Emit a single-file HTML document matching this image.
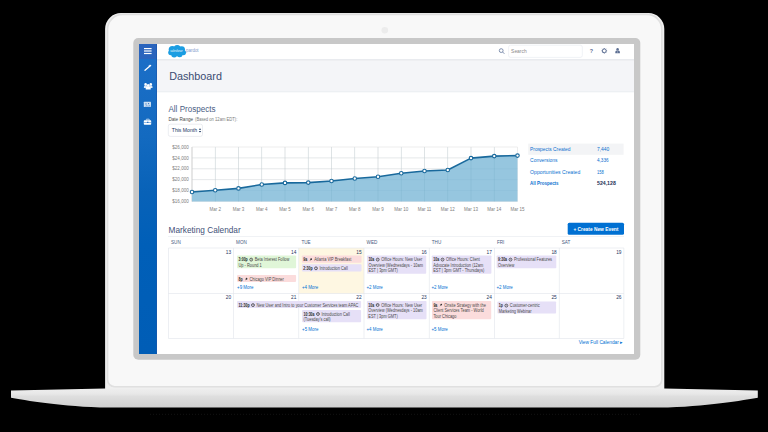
<!DOCTYPE html>
<html><head><meta charset="utf-8">
<style>
*{margin:0;padding:0}
html,body{width:768px;height:432px;background:#000;overflow:hidden}
svg{position:absolute;left:0;top:0;font-family:"Liberation Sans",sans-serif}
</style></head><body>
<svg width="768" height="432" viewBox="0 0 768 432">
<defs>
<linearGradient id="bg" x1="0" y1="0" x2="0" y2="1">
<stop offset="0" stop-color="#eeeeee"/>
<stop offset="0.28" stop-color="#e8e8e8"/>
<stop offset="0.42" stop-color="#dedede"/>
<stop offset="1" stop-color="#d0d0d0"/>
</linearGradient>
</defs>

<path d="M11 390.6 L105.1 388.4 L664.3 388.4 L757.8 390.6 L757.8 397.7 C 735 401.5, 700 407.6, 650 407.6 L 118 407.6 C 68 407.6, 33 401.5, 11 397.7 Z" fill="url(#bg)"/>
<line x1="150" y1="414.3" x2="640" y2="414.3" stroke="#1e1e1e" stroke-width="0.8" stroke-dasharray="0.8 2.2"/>
<filter id="bl" x="-5%" y="-5%" width="110%" height="110%"><feGaussianBlur stdDeviation="0.6"/></filter>
<path d="M105.1 389 V29 A16 16 0 0 1 121.1 13.1 H648.3 A16 16 0 0 1 664.3 29 V389 Z" fill="#efefef"/>
<path d="M107.6 379.7 V29.5 A15 15 0 0 1 122.6 14.4 H646.8 A15 15 0 0 1 661.8 29.5 V379.7 A7 7 0 0 1 654.8 386.7 H114.6 A7 7 0 0 1 107.6 379.7 Z" fill="#f8f8f8" stroke="#e0e0e0" stroke-width="1.6" filter="url(#bl)"/>
<circle cx="384.8" cy="30.3" r="3.3" fill="#ececec"/>
<rect x="133.3" y="38" width="507" height="321.8" rx="5" fill="#c8c8c8"/>
<rect x="139" y="44" width="495" height="310" fill="#ffffff"/>
<rect x="157" y="59.8" width="477" height="31.7" fill="#f4f5f8"/>
<rect x="157" y="59" width="477" height="1.6" fill="#e9ebef"/>
<rect x="157" y="91.5" width="477" height="0.7" fill="#e2e6ec"/>
<linearGradient id="sg" x1="0" y1="0" x2="0" y2="1" gradientUnits="objectBoundingBox"><stop offset="0" stop-color="#1d6fc8"/><stop offset="0.3" stop-color="#136ac0"/><stop offset="0.48" stop-color="#0862b8"/><stop offset="0.65" stop-color="#005fb8"/><stop offset="1" stop-color="#005db6"/></linearGradient>
<rect x="139" y="44" width="18" height="310" fill="url(#sg)"/>
<rect x="139" y="44" width="18" height="15" fill="#2a64bd"/>
<rect x="156" y="44" width="1" height="310" fill="#1a55a8" opacity="0.6"/>
<rect x="144" y="48.0" width="7.6" height="1.2" fill="#fff"/>
<rect x="144" y="50.4" width="7.6" height="1.2" fill="#fff"/>
<rect x="144" y="52.9" width="7.6" height="1.2" fill="#fff"/>
<line x1="145" y1="70.3" x2="150.6" y2="65.5" stroke="#fff" stroke-width="1.3" stroke-linecap="round"/>
<path d="M149.5 64.5 l0.4 0.8 l0.8 0.2 l-0.6 0.5 l0.1 0.8 l-0.7-0.4 l-0.7 0.4 l0.1-0.8 l-0.6-0.5 l0.8-0.2z" fill="#fff" opacity="0.7"/>
<circle cx="145.6" cy="84.4" r="1.3" fill="#fff"/><circle cx="150.8" cy="84.4" r="1.3" fill="#fff"/>
<path d="M143.9 88.0 v-1.3 q0-1.2 1.7-1.2 q1.7 0 1.7 1.2 v1.3z M149.1 88.0 v-1.3 q0-1.2 1.7-1.2 q1.7 0 1.7 1.2 v1.3z" fill="#fff" opacity="0.85"/>
<circle cx="148.2" cy="85.6" r="1.5" fill="#fff"/>
<path d="M145.7 89.4 v-1.3 q0-1.3 2.5-1.3 q2.5 0 2.5 1.3 v1.3z" fill="#fff"/>
<rect x="143.8" y="101.8" width="7.2" height="5.2" rx="0.5" fill="#fff" opacity="0.78"/>
<circle cx="146" cy="103.9" r="0.6" fill="#2a6cc0"/><circle cx="148.6" cy="103.6" r="0.6" fill="#2a6cc0"/>
<path d="M144.6 106.6 l2.2-1.6 l1.2 0.9 l1.5-1.2 l1.5 1.9z" fill="#4f8ad0" opacity="0.6"/>
<rect x="143.8" y="120.3" width="7.4" height="4.5" rx="0.7" fill="#fff"/>
<path d="M146.3 120.5 v-0.9 q0-0.4 0.4-0.4 h2.2 q0.4 0 0.4 0.4 v0.9" fill="none" stroke="#fff" stroke-width="0.7"/>
<rect x="143.8" y="122.1" width="7.4" height="0.45" fill="#1565c0"/>
<rect x="147.1" y="121.7" width="1.3" height="1.2" fill="#1565c0"/>
<g fill="#1b9de2">
<circle cx="172.3" cy="49.6" r="3.6"/>
<circle cx="177.2" cy="48.6" r="3.5"/>
<circle cx="181.6" cy="49.6" r="3.4"/>
<circle cx="183.4" cy="52.6" r="2.6"/>
<circle cx="179.6" cy="54.2" r="3.0"/>
<circle cx="174.2" cy="54.4" r="3.0"/>
<circle cx="170.8" cy="52.6" r="2.6"/>
<circle cx="176.8" cy="51.6" r="3.8"/>
</g>
<text x="170.2" y="52.4" font-size="3.0" fill="#ffffff" font-weight="normal" text-anchor="start" textLength="12.4" lengthAdjust="spacingAndGlyphs" font-style="italic">salesforce</text>
<text x="186" y="52.4" font-size="4.8" fill="#7f9ccb" font-weight="normal" text-anchor="start" textLength="12.6" lengthAdjust="spacingAndGlyphs">pardot</text>
<circle cx="501.2" cy="50.6" r="1.9" fill="none" stroke="#7384a6" stroke-width="0.9"/>
<line x1="502.6" y1="52" x2="504.4" y2="53.8" stroke="#7384a6" stroke-width="0.9"/>
<rect x="508.6" y="45.2" width="73.7" height="12.2" rx="2" fill="#fff" stroke="#e6eaf0" stroke-width="0.6"/>
<text x="511.1" y="52.9" font-size="5" fill="#8a8a8a" font-weight="normal" text-anchor="start" textLength="15.6" lengthAdjust="spacingAndGlyphs">Search</text>
<text x="591.4" y="53.0" font-size="5.4" fill="#5d6f93" font-weight="bold" text-anchor="middle">?</text>
<circle cx="604.3" cy="50.8" r="1.9" fill="none" stroke="#5d6f93" stroke-width="1.0"/>
<line x1="606.20" y1="50.80" x2="607.10" y2="50.80" stroke="#5d6f93" stroke-width="0.8"/>
<line x1="605.64" y1="52.14" x2="606.28" y2="52.78" stroke="#5d6f93" stroke-width="0.8"/>
<line x1="604.30" y1="52.70" x2="604.30" y2="53.60" stroke="#5d6f93" stroke-width="0.8"/>
<line x1="602.96" y1="52.14" x2="602.32" y2="52.78" stroke="#5d6f93" stroke-width="0.8"/>
<line x1="602.40" y1="50.80" x2="601.50" y2="50.80" stroke="#5d6f93" stroke-width="0.8"/>
<line x1="602.96" y1="49.46" x2="602.32" y2="48.82" stroke="#5d6f93" stroke-width="0.8"/>
<line x1="604.30" y1="48.90" x2="604.30" y2="48.00" stroke="#5d6f93" stroke-width="0.8"/>
<line x1="605.64" y1="49.46" x2="606.28" y2="48.82" stroke="#5d6f93" stroke-width="0.8"/>
<circle cx="617.6" cy="49.2" r="1.2" fill="#5d6f93"/><path d="M615.3 53.3 v-1.2 q0-1.3 1.3-1.5 h2 q1.3 0.2 1.3 1.5 v1.2z" fill="#5d6f93"/><path d="M617.6 50.8 l-0.4 1.8 h0.8z" fill="#fff" opacity="0.8"/>
<text x="169.2" y="79.6" font-size="11.6" fill="#3a4c72" font-weight="normal" text-anchor="start" textLength="52.7" lengthAdjust="spacingAndGlyphs">Dashboard</text>
<text x="168.4" y="112.1" font-size="8.3" fill="#4a5d84" font-weight="normal" text-anchor="start" textLength="47.2" lengthAdjust="spacingAndGlyphs">All Prospects</text>
<text x="168.4" y="121.4" font-size="4.6" fill="#4a4a4a" font-weight="normal" text-anchor="start" textLength="24.8" lengthAdjust="spacingAndGlyphs">Date Range</text>
<text x="195" y="121.4" font-size="4.5" fill="#7a7a7a" font-weight="normal" text-anchor="start" textLength="42.4" lengthAdjust="spacingAndGlyphs">(Based on 12am EDT):</text>
<rect x="168.3" y="124.2" width="34.2" height="12.2" rx="2" fill="#fff" stroke="#dde1e8" stroke-width="0.6"/>
<text x="171.8" y="132" font-size="5" fill="#16325c" font-weight="normal" text-anchor="start" textLength="25.2" lengthAdjust="spacingAndGlyphs">This Month</text>
<path d="M198.8 129.8 l1.2-1.6 l1.2 1.6z M198.8 131 l1.2 1.6 l1.2-1.6z" fill="#16325c"/>
<rect x="192.0" y="146.65" width="325.5" height="0.7" fill="#e6e6e6"/>
<text x="188.8" y="148.6" font-size="4.5" fill="#7d7d7d" font-weight="normal" text-anchor="end" textLength="16.5" lengthAdjust="spacingAndGlyphs">$26,000</text>
<rect x="192.0" y="157.57" width="325.5" height="0.7" fill="#e6e6e6"/>
<text x="188.8" y="159.51999999999998" font-size="4.5" fill="#7d7d7d" font-weight="normal" text-anchor="end" textLength="16.5" lengthAdjust="spacingAndGlyphs">$24,000</text>
<rect x="192.0" y="168.49" width="325.5" height="0.7" fill="#e6e6e6"/>
<text x="188.8" y="170.44" font-size="4.5" fill="#7d7d7d" font-weight="normal" text-anchor="end" textLength="16.5" lengthAdjust="spacingAndGlyphs">$22,000</text>
<rect x="192.0" y="179.41" width="325.5" height="0.7" fill="#e6e6e6"/>
<text x="188.8" y="181.35999999999999" font-size="4.5" fill="#7d7d7d" font-weight="normal" text-anchor="end" textLength="16.5" lengthAdjust="spacingAndGlyphs">$20,000</text>
<rect x="192.0" y="190.33" width="325.5" height="0.7" fill="#e6e6e6"/>
<text x="188.8" y="192.28" font-size="4.5" fill="#7d7d7d" font-weight="normal" text-anchor="end" textLength="16.5" lengthAdjust="spacingAndGlyphs">$18,000</text>
<rect x="192.0" y="201.25" width="325.5" height="0.7" fill="#e6e6e6"/>
<text x="188.8" y="203.2" font-size="4.5" fill="#7d7d7d" font-weight="normal" text-anchor="end" textLength="16.5" lengthAdjust="spacingAndGlyphs">$16,000</text>
<rect x="191.65" y="147.0" width="0.7" height="54.599999999999994" fill="#e6e6e6"/>
<rect x="214.9" y="147.0" width="0.7" height="54.599999999999994" fill="#e6e6e6"/>
<text x="215.25" y="210.8" font-size="4.5" fill="#7d7d7d" font-weight="normal" text-anchor="middle">Mar 2</text>
<rect x="238.15" y="147.0" width="0.7" height="54.599999999999994" fill="#e6e6e6"/>
<text x="238.5" y="210.8" font-size="4.5" fill="#7d7d7d" font-weight="normal" text-anchor="middle">Mar 3</text>
<rect x="261.4" y="147.0" width="0.7" height="54.599999999999994" fill="#e6e6e6"/>
<text x="261.75" y="210.8" font-size="4.5" fill="#7d7d7d" font-weight="normal" text-anchor="middle">Mar 4</text>
<rect x="284.65" y="147.0" width="0.7" height="54.599999999999994" fill="#e6e6e6"/>
<text x="285.0" y="210.8" font-size="4.5" fill="#7d7d7d" font-weight="normal" text-anchor="middle">Mar 5</text>
<rect x="307.9" y="147.0" width="0.7" height="54.599999999999994" fill="#e6e6e6"/>
<text x="308.25" y="210.8" font-size="4.5" fill="#7d7d7d" font-weight="normal" text-anchor="middle">Mar 6</text>
<rect x="331.15" y="147.0" width="0.7" height="54.599999999999994" fill="#e6e6e6"/>
<text x="331.5" y="210.8" font-size="4.5" fill="#7d7d7d" font-weight="normal" text-anchor="middle">Mar 7</text>
<rect x="354.4" y="147.0" width="0.7" height="54.599999999999994" fill="#e6e6e6"/>
<text x="354.75" y="210.8" font-size="4.5" fill="#7d7d7d" font-weight="normal" text-anchor="middle">Mar 8</text>
<rect x="377.65" y="147.0" width="0.7" height="54.599999999999994" fill="#e6e6e6"/>
<text x="378.0" y="210.8" font-size="4.5" fill="#7d7d7d" font-weight="normal" text-anchor="middle">Mar 9</text>
<rect x="400.9" y="147.0" width="0.7" height="54.599999999999994" fill="#e6e6e6"/>
<text x="401.25" y="210.8" font-size="4.5" fill="#7d7d7d" font-weight="normal" text-anchor="middle">Mar 10</text>
<rect x="424.15" y="147.0" width="0.7" height="54.599999999999994" fill="#e6e6e6"/>
<text x="424.5" y="210.8" font-size="4.5" fill="#7d7d7d" font-weight="normal" text-anchor="middle">Mar 11</text>
<rect x="447.4" y="147.0" width="0.7" height="54.599999999999994" fill="#e6e6e6"/>
<text x="447.75" y="210.8" font-size="4.5" fill="#7d7d7d" font-weight="normal" text-anchor="middle">Mar 12</text>
<rect x="470.65" y="147.0" width="0.7" height="54.599999999999994" fill="#e6e6e6"/>
<text x="471.0" y="210.8" font-size="4.5" fill="#7d7d7d" font-weight="normal" text-anchor="middle">Mar 13</text>
<rect x="493.9" y="147.0" width="0.7" height="54.599999999999994" fill="#e6e6e6"/>
<text x="494.25" y="210.8" font-size="4.5" fill="#7d7d7d" font-weight="normal" text-anchor="middle">Mar 14</text>
<rect x="517.15" y="147.0" width="0.7" height="54.599999999999994" fill="#e6e6e6"/>
<text x="517.5" y="210.8" font-size="4.5" fill="#7d7d7d" font-weight="normal" text-anchor="middle">Mar 15</text>
<rect x="191.6" y="147.0" width="0.8" height="54.599999999999994" fill="#cfcfcf"/>
<polygon points="192.0,201.6 192.00,192.0 215.25,190.2 238.50,188.4 261.75,184.5 285.00,182.9 308.25,182.6 331.50,181.0 354.75,178.5 378.00,176.7 401.25,173.3 424.50,171.0 447.75,170.0 471.00,158.1 494.25,156.1 517.50,155.6 517.5,201.6" fill="#96c6df"/>
<rect x="214.90" y="147.0" width="0.7" height="54.599999999999994" fill="#1a5f8a" opacity="0.10"/>
<rect x="238.15" y="147.0" width="0.7" height="54.599999999999994" fill="#1a5f8a" opacity="0.10"/>
<rect x="261.40" y="147.0" width="0.7" height="54.599999999999994" fill="#1a5f8a" opacity="0.10"/>
<rect x="284.65" y="147.0" width="0.7" height="54.599999999999994" fill="#1a5f8a" opacity="0.10"/>
<rect x="307.90" y="147.0" width="0.7" height="54.599999999999994" fill="#1a5f8a" opacity="0.10"/>
<rect x="331.15" y="147.0" width="0.7" height="54.599999999999994" fill="#1a5f8a" opacity="0.10"/>
<rect x="354.40" y="147.0" width="0.7" height="54.599999999999994" fill="#1a5f8a" opacity="0.10"/>
<rect x="377.65" y="147.0" width="0.7" height="54.599999999999994" fill="#1a5f8a" opacity="0.10"/>
<rect x="400.90" y="147.0" width="0.7" height="54.599999999999994" fill="#1a5f8a" opacity="0.10"/>
<rect x="424.15" y="147.0" width="0.7" height="54.599999999999994" fill="#1a5f8a" opacity="0.10"/>
<rect x="447.40" y="147.0" width="0.7" height="54.599999999999994" fill="#1a5f8a" opacity="0.10"/>
<rect x="470.65" y="147.0" width="0.7" height="54.599999999999994" fill="#1a5f8a" opacity="0.10"/>
<rect x="493.90" y="147.0" width="0.7" height="54.599999999999994" fill="#1a5f8a" opacity="0.10"/>
<rect x="192.0" y="157.57" width="325.5" height="0.7" fill="#1a5f8a" opacity="0.05"/>
<rect x="192.0" y="168.49" width="325.5" height="0.7" fill="#1a5f8a" opacity="0.05"/>
<rect x="192.0" y="179.41" width="325.5" height="0.7" fill="#1a5f8a" opacity="0.05"/>
<rect x="192.0" y="190.33" width="325.5" height="0.7" fill="#1a5f8a" opacity="0.05"/>
<polyline points="192.00,192.0 215.25,190.2 238.50,188.4 261.75,184.5 285.00,182.9 308.25,182.6 331.50,181.0 354.75,178.5 378.00,176.7 401.25,173.3 424.50,171.0 447.75,170.0 471.00,158.1 494.25,156.1 517.50,155.6" fill="none" stroke="#19699c" stroke-width="1.6" stroke-linejoin="round"/>
<circle cx="192.00" cy="192.0" r="1.75" fill="#fff" stroke="#19699c" stroke-width="1.1"/>
<circle cx="215.25" cy="190.2" r="1.75" fill="#fff" stroke="#19699c" stroke-width="1.1"/>
<circle cx="238.50" cy="188.4" r="1.75" fill="#fff" stroke="#19699c" stroke-width="1.1"/>
<circle cx="261.75" cy="184.5" r="1.75" fill="#fff" stroke="#19699c" stroke-width="1.1"/>
<circle cx="285.00" cy="182.9" r="1.75" fill="#fff" stroke="#19699c" stroke-width="1.1"/>
<circle cx="308.25" cy="182.6" r="1.75" fill="#fff" stroke="#19699c" stroke-width="1.1"/>
<circle cx="331.50" cy="181.0" r="1.75" fill="#fff" stroke="#19699c" stroke-width="1.1"/>
<circle cx="354.75" cy="178.5" r="1.75" fill="#fff" stroke="#19699c" stroke-width="1.1"/>
<circle cx="378.00" cy="176.7" r="1.75" fill="#fff" stroke="#19699c" stroke-width="1.1"/>
<circle cx="401.25" cy="173.3" r="1.75" fill="#fff" stroke="#19699c" stroke-width="1.1"/>
<circle cx="424.50" cy="171.0" r="1.75" fill="#fff" stroke="#19699c" stroke-width="1.1"/>
<circle cx="447.75" cy="170.0" r="1.75" fill="#fff" stroke="#19699c" stroke-width="1.1"/>
<circle cx="471.00" cy="158.1" r="1.75" fill="#fff" stroke="#19699c" stroke-width="1.1"/>
<circle cx="494.25" cy="156.1" r="1.75" fill="#fff" stroke="#19699c" stroke-width="1.1"/>
<circle cx="517.50" cy="155.6" r="1.75" fill="#fff" stroke="#19699c" stroke-width="1.1"/>
<rect x="528.2" y="143.6" width="95.4" height="11.2" fill="#f3f4f6"/>
<text x="530.1" y="151.1" font-size="5.1" fill="#0a6fcf" font-weight="normal" text-anchor="start" textLength="40.3" lengthAdjust="spacingAndGlyphs">Prospects Created</text>
<text x="597.0" y="151.1" font-size="5.1" fill="#0a6fcf" font-weight="normal" text-anchor="start" textLength="12.3" lengthAdjust="spacingAndGlyphs">7,440</text>
<text x="530.1" y="162.1" font-size="5.1" fill="#0a6fcf" font-weight="normal" text-anchor="start" textLength="27.4" lengthAdjust="spacingAndGlyphs">Conversions</text>
<text x="597.0" y="162.1" font-size="5.1" fill="#0a6fcf" font-weight="normal" text-anchor="start" textLength="11.6" lengthAdjust="spacingAndGlyphs">4,336</text>
<text x="530.1" y="173.9" font-size="5.1" fill="#0a6fcf" font-weight="normal" text-anchor="start" textLength="50.2" lengthAdjust="spacingAndGlyphs">Opportunities Created</text>
<text x="597.0" y="173.9" font-size="5.1" fill="#0a6fcf" font-weight="normal" text-anchor="start" textLength="6.8" lengthAdjust="spacingAndGlyphs">158</text>
<text x="530.1" y="184.9" font-size="5.1" fill="#0a6fcf" font-weight="bold" text-anchor="start" textLength="28.5" lengthAdjust="spacingAndGlyphs">All Prospects</text>
<text x="597.0" y="184.9" font-size="5.1" fill="#1d2f55" font-weight="bold" text-anchor="start" textLength="18.8" lengthAdjust="spacingAndGlyphs">524,128</text>
<text x="168.6" y="232.6" font-size="9.2" fill="#3f5178" font-weight="normal" text-anchor="start" textLength="72.1" lengthAdjust="spacingAndGlyphs">Marketing Calendar</text>
<rect x="567.7" y="222.7" width="56.3" height="12" rx="1.5" fill="#0070d2"/>
<text x="573.4" y="230.9" font-size="4.9" fill="#ffffff" font-weight="bold" text-anchor="start" textLength="45" lengthAdjust="spacingAndGlyphs">+ Create New Event</text>
<rect x="168" y="236.2" width="456" height="0.6" fill="#e6e9ee"/>
<text x="171.0" y="243.8" font-size="4.6" fill="#485a80" font-weight="normal" text-anchor="start">SUN</text>
<text x="236.1" y="243.8" font-size="4.6" fill="#485a80" font-weight="normal" text-anchor="start">MON</text>
<text x="301.40000000000003" y="243.8" font-size="4.6" fill="#485a80" font-weight="normal" text-anchor="start">TUE</text>
<text x="366.6" y="243.8" font-size="4.6" fill="#485a80" font-weight="normal" text-anchor="start">WED</text>
<text x="431.8" y="243.8" font-size="4.6" fill="#485a80" font-weight="normal" text-anchor="start">THU</text>
<text x="496.90000000000003" y="243.8" font-size="4.6" fill="#485a80" font-weight="normal" text-anchor="start">FRI</text>
<text x="561.8000000000001" y="243.8" font-size="4.6" fill="#485a80" font-weight="normal" text-anchor="start">SAT</text>
<rect x="298.8" y="248.0" width="65.19999999999999" height="45.60000000000002" fill="#fef7e2"/>
<rect x="168.4" y="247.7" width="455.5" height="0.6" fill="#e1e5eb"/>
<rect x="168.4" y="293.3" width="455.5" height="0.6" fill="#e1e5eb"/>
<rect x="168.4" y="338.09999999999997" width="455.5" height="0.6" fill="#e1e5eb"/>
<rect x="168.1" y="248.0" width="0.6" height="90.39999999999998" fill="#e1e5eb"/>
<rect x="233.2" y="248.0" width="0.6" height="90.39999999999998" fill="#e1e5eb"/>
<rect x="298.5" y="248.0" width="0.6" height="90.39999999999998" fill="#e1e5eb"/>
<rect x="363.7" y="248.0" width="0.6" height="90.39999999999998" fill="#e1e5eb"/>
<rect x="428.9" y="248.0" width="0.6" height="90.39999999999998" fill="#e1e5eb"/>
<rect x="494.0" y="248.0" width="0.6" height="90.39999999999998" fill="#e1e5eb"/>
<rect x="558.9000000000001" y="248.0" width="0.6" height="90.39999999999998" fill="#e1e5eb"/>
<rect x="623.6" y="248.0" width="0.6" height="90.39999999999998" fill="#e1e5eb"/>
<text x="231.1" y="253.6" font-size="4.8" fill="#1f3560" font-weight="normal" text-anchor="end">13</text>
<text x="296.40000000000003" y="253.6" font-size="4.8" fill="#1f3560" font-weight="normal" text-anchor="end">14</text>
<text x="361.6" y="253.6" font-size="4.8" fill="#1f3560" font-weight="normal" text-anchor="end">15</text>
<text x="426.8" y="253.6" font-size="4.8" fill="#1f3560" font-weight="normal" text-anchor="end">16</text>
<text x="491.90000000000003" y="253.6" font-size="4.8" fill="#1f3560" font-weight="normal" text-anchor="end">17</text>
<text x="556.8000000000001" y="253.6" font-size="4.8" fill="#1f3560" font-weight="normal" text-anchor="end">18</text>
<text x="621.5" y="253.6" font-size="4.8" fill="#1f3560" font-weight="normal" text-anchor="end">19</text>
<text x="231.1" y="299.20000000000005" font-size="4.8" fill="#1f3560" font-weight="normal" text-anchor="end">20</text>
<text x="296.40000000000003" y="299.20000000000005" font-size="4.8" fill="#1f3560" font-weight="normal" text-anchor="end">21</text>
<text x="361.6" y="299.20000000000005" font-size="4.8" fill="#1f3560" font-weight="normal" text-anchor="end">22</text>
<text x="426.8" y="299.20000000000005" font-size="4.8" fill="#1f3560" font-weight="normal" text-anchor="end">23</text>
<text x="491.90000000000003" y="299.20000000000005" font-size="4.8" fill="#1f3560" font-weight="normal" text-anchor="end">24</text>
<text x="556.8000000000001" y="299.20000000000005" font-size="4.8" fill="#1f3560" font-weight="normal" text-anchor="end">25</text>
<text x="621.5" y="299.20000000000005" font-size="4.8" fill="#1f3560" font-weight="normal" text-anchor="end">26</text>
<rect x="237.1" y="255.5" width="59.00" height="12.80" rx="0.8" fill="#e0f6d8"/>
<text x="238.5" y="261.20" font-size="4.5" fill="#2a2a2a" font-weight="bold" textLength="9.29" lengthAdjust="spacingAndGlyphs">3:00p</text>
<circle cx="251.19" cy="259.60" r="1.45" fill="none" stroke="#3a3a3a" stroke-width="0.75"/>
<path d="M251.19 258.70 v0.9 h0.6" stroke="#3a3a3a" stroke-width="0.35" fill="none"/>
<text x="254.69" y="261.20" font-size="4.5" fill="#484848" textLength="34.60" lengthAdjust="spacingAndGlyphs">Beta Interest Follow</text>
<text x="238.5" y="266.65" font-size="4.5" fill="#484848" textLength="23.28" lengthAdjust="spacingAndGlyphs">Up - Round 1</text>
<rect x="237.1" y="275.1" width="59.00" height="6.80" rx="0.8" fill="#fbdcdc"/>
<text x="238.5" y="280.80" font-size="4.5" fill="#2a2a2a" font-weight="bold" textLength="4.15" lengthAdjust="spacingAndGlyphs">8p</text>
<path d="M244.85 280.60 l1.7-2.2 l0.6 0.6 z" fill="#333"/><circle cx="246.55" cy="278.70" r="0.85" fill="#333"/>
<text x="249.55" y="280.80" font-size="4.5" fill="#484848" textLength="34.31" lengthAdjust="spacingAndGlyphs">Chicago VIP Dinner</text>
<text x="237.1" y="288.5" font-size="4.9" fill="#0070d2" textLength="16.30" lengthAdjust="spacingAndGlyphs">+9 More</text>
<rect x="301.9" y="255.5" width="59.60" height="7.30" rx="0.8" fill="#fbdcdc"/>
<text x="303.29999999999995" y="261.20" font-size="4.5" fill="#2a2a2a" font-weight="bold" textLength="3.95" lengthAdjust="spacingAndGlyphs">9a</text>
<path d="M309.45 261.00 l1.7-2.2 l0.6 0.6 z" fill="#333"/><circle cx="311.15" cy="259.10" r="0.85" fill="#333"/>
<text x="314.15" y="261.20" font-size="4.5" fill="#484848" textLength="37.14" lengthAdjust="spacingAndGlyphs">Atlanta VIP Breakfast</text>
<rect x="301.9" y="264.2" width="59.60" height="7.20" rx="0.8" fill="#e6e0f7"/>
<text x="303.29999999999995" y="269.90" font-size="4.5" fill="#2a2a2a" font-weight="bold" textLength="9.29" lengthAdjust="spacingAndGlyphs">2:30p</text>
<circle cx="315.99" cy="268.30" r="1.45" fill="none" stroke="#3a3a3a" stroke-width="0.75"/>
<path d="M315.99 267.40 v0.9 h0.6" stroke="#3a3a3a" stroke-width="0.35" fill="none"/>
<text x="319.49" y="269.90" font-size="4.5" fill="#484848" textLength="28.29" lengthAdjust="spacingAndGlyphs">Introduction Call</text>
<text x="301.9" y="288.6" font-size="4.9" fill="#0070d2" textLength="16.30" lengthAdjust="spacingAndGlyphs">+4 More</text>
<rect x="367.0" y="255.5" width="59.20" height="18.20" rx="0.8" fill="#e6e0f7"/>
<text x="368.4" y="261.20" font-size="4.5" fill="#2a2a2a" font-weight="bold" textLength="5.93" lengthAdjust="spacingAndGlyphs">10a</text>
<circle cx="377.73" cy="259.60" r="1.45" fill="none" stroke="#3a3a3a" stroke-width="0.75"/>
<path d="M377.73 258.70 v0.9 h0.6" stroke="#3a3a3a" stroke-width="0.35" fill="none"/>
<text x="381.23" y="261.20" font-size="4.5" fill="#484848" textLength="41.04" lengthAdjust="spacingAndGlyphs">Office Hours: New User</text>
<text x="368.4" y="266.65" font-size="4.5" fill="#484848" textLength="54.54" lengthAdjust="spacingAndGlyphs">Overview (Wednesdays - 10am</text>
<text x="368.4" y="272.10" font-size="4.5" fill="#484848" textLength="29.44" lengthAdjust="spacingAndGlyphs">EST | 3pm GMT)</text>
<text x="366.5" y="288.6" font-size="4.9" fill="#0070d2" textLength="16.30" lengthAdjust="spacingAndGlyphs">+2 More</text>
<rect x="431.8" y="255.5" width="59.60" height="18.30" rx="0.8" fill="#e6e0f7"/>
<text x="433.2" y="261.20" font-size="4.5" fill="#2a2a2a" font-weight="bold" textLength="5.93" lengthAdjust="spacingAndGlyphs">10a</text>
<circle cx="442.53" cy="259.60" r="1.45" fill="none" stroke="#3a3a3a" stroke-width="0.75"/>
<path d="M442.53 258.70 v0.9 h0.6" stroke="#3a3a3a" stroke-width="0.35" fill="none"/>
<text x="446.03" y="261.20" font-size="4.5" fill="#484848" textLength="33.87" lengthAdjust="spacingAndGlyphs">Office Hours: Client</text>
<text x="433.2" y="266.65" font-size="4.5" fill="#484848" textLength="50.05" lengthAdjust="spacingAndGlyphs">Advocate Introduction (12am</text>
<text x="433.2" y="272.10" font-size="4.5" fill="#484848" textLength="51.05" lengthAdjust="spacingAndGlyphs">EST | 3pm GMT - Thursdays)</text>
<text x="431.5" y="288.6" font-size="4.9" fill="#0070d2" textLength="16.30" lengthAdjust="spacingAndGlyphs">+2 More</text>
<rect x="496.6" y="255.5" width="59.70" height="12.80" rx="0.8" fill="#e6e0f7"/>
<text x="498.0" y="261.20" font-size="4.5" fill="#2a2a2a" font-weight="bold" textLength="9.09" lengthAdjust="spacingAndGlyphs">9:30a</text>
<circle cx="510.49" cy="259.60" r="1.45" fill="none" stroke="#3a3a3a" stroke-width="0.75"/>
<path d="M510.49 258.70 v0.9 h0.6" stroke="#3a3a3a" stroke-width="0.35" fill="none"/>
<text x="513.99" y="261.20" font-size="4.5" fill="#484848" textLength="38.08" lengthAdjust="spacingAndGlyphs">Professional Features</text>
<text x="498.0" y="266.65" font-size="4.5" fill="#484848" textLength="16.32" lengthAdjust="spacingAndGlyphs">Overview</text>
<text x="496.5" y="288.6" font-size="4.9" fill="#0070d2" textLength="16.30" lengthAdjust="spacingAndGlyphs">+2 More</text>
<rect x="237.1" y="301.0" width="124.00" height="6.90" rx="0.8" fill="#e6e0f7"/>
<text x="238.5" y="306.70" font-size="4.5" fill="#2a2a2a" font-weight="bold" textLength="11.07" lengthAdjust="spacingAndGlyphs">11:30p</text>
<circle cx="252.97" cy="305.10" r="1.45" fill="none" stroke="#3a3a3a" stroke-width="0.75"/>
<path d="M252.97 304.20 v0.9 h0.6" stroke="#3a3a3a" stroke-width="0.35" fill="none"/>
<text x="256.47" y="306.70" font-size="4.5" fill="#484848" textLength="101.97" lengthAdjust="spacingAndGlyphs">New User and Intro to your Customer Services team APAC</text>
<rect x="302.1" y="309.9" width="59.00" height="12.30" rx="0.8" fill="#e6e0f7"/>
<text x="303.5" y="315.60" font-size="4.5" fill="#2a2a2a" font-weight="bold" textLength="11.07" lengthAdjust="spacingAndGlyphs">10:30a</text>
<circle cx="317.97" cy="314.00" r="1.45" fill="none" stroke="#3a3a3a" stroke-width="0.75"/>
<path d="M317.97 313.10 v0.9 h0.6" stroke="#3a3a3a" stroke-width="0.35" fill="none"/>
<text x="321.47" y="315.60" font-size="4.5" fill="#484848" textLength="28.29" lengthAdjust="spacingAndGlyphs">Introduction Call</text>
<text x="303.5" y="321.05" font-size="4.5" fill="#484848" textLength="27.14" lengthAdjust="spacingAndGlyphs">(Tuesday's call)</text>
<text x="302.1" y="330.6" font-size="4.9" fill="#0070d2" textLength="16.30" lengthAdjust="spacingAndGlyphs">+5 More</text>
<rect x="366.9" y="300.9" width="59.60" height="18.30" rx="0.8" fill="#e6e0f7"/>
<text x="368.29999999999995" y="306.60" font-size="4.5" fill="#2a2a2a" font-weight="bold" textLength="5.93" lengthAdjust="spacingAndGlyphs">10a</text>
<circle cx="377.63" cy="305.00" r="1.45" fill="none" stroke="#3a3a3a" stroke-width="0.75"/>
<path d="M377.63 304.10 v0.9 h0.6" stroke="#3a3a3a" stroke-width="0.35" fill="none"/>
<text x="381.13" y="306.60" font-size="4.5" fill="#484848" textLength="41.04" lengthAdjust="spacingAndGlyphs">Office Hours: New User</text>
<text x="368.29999999999995" y="312.05" font-size="4.5" fill="#484848" textLength="54.54" lengthAdjust="spacingAndGlyphs">Overview (Wednesdays - 10am</text>
<text x="368.29999999999995" y="317.50" font-size="4.5" fill="#484848" textLength="29.44" lengthAdjust="spacingAndGlyphs">EST | 3pm GMT)</text>
<text x="366.5" y="330.8" font-size="4.9" fill="#0070d2" textLength="16.30" lengthAdjust="spacingAndGlyphs">+4 More</text>
<rect x="432.0" y="300.9" width="59.20" height="18.30" rx="0.8" fill="#fbdcdc"/>
<text x="433.4" y="306.60" font-size="4.5" fill="#2a2a2a" font-weight="bold" textLength="3.95" lengthAdjust="spacingAndGlyphs">9a</text>
<path d="M439.55 306.40 l1.7-2.2 l0.6 0.6 z" fill="#333"/><circle cx="441.25" cy="304.50" r="0.85" fill="#333"/>
<text x="444.25" y="306.60" font-size="4.5" fill="#484848" textLength="41.56" lengthAdjust="spacingAndGlyphs">Onsite Strategy with the</text>
<text x="433.4" y="312.05" font-size="4.5" fill="#484848" textLength="50.33" lengthAdjust="spacingAndGlyphs">Client Services Team - World</text>
<text x="433.4" y="317.50" font-size="4.5" fill="#484848" textLength="23.07" lengthAdjust="spacingAndGlyphs">Tour Chicago</text>
<text x="431.5" y="330.8" font-size="4.9" fill="#0070d2" textLength="16.30" lengthAdjust="spacingAndGlyphs">+5 More</text>
<rect x="497.4" y="301.5" width="58.70" height="12.00" rx="0.8" fill="#e6e0f7"/>
<text x="498.79999999999995" y="307.20" font-size="4.5" fill="#2a2a2a" font-weight="bold" textLength="4.15" lengthAdjust="spacingAndGlyphs">1p</text>
<circle cx="506.35" cy="305.60" r="1.45" fill="none" stroke="#3a3a3a" stroke-width="0.75"/>
<path d="M506.35 304.70 v0.9 h0.6" stroke="#3a3a3a" stroke-width="0.35" fill="none"/>
<text x="509.85" y="307.20" font-size="4.5" fill="#484848" textLength="29.80" lengthAdjust="spacingAndGlyphs">Customer-centric</text>
<text x="498.79999999999995" y="312.65" font-size="4.5" fill="#484848" textLength="32.78" lengthAdjust="spacingAndGlyphs">Marketing Webinar</text>
<text x="578.7" y="343.7" font-size="4.8" fill="#0070d2" font-weight="normal" text-anchor="start" textLength="44.5" lengthAdjust="spacingAndGlyphs">View Full Calendar ▸</text>
</svg></body></html>
